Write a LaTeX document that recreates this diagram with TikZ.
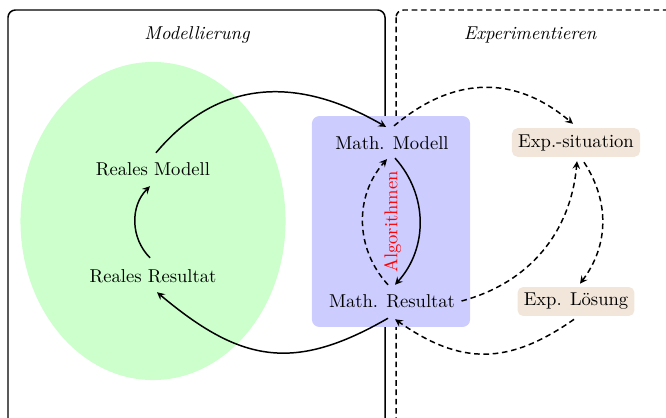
\documentclass[tikz,border=0pt]{standalone}
\usetikzlibrary{shapes.geometric,calc}
\begin{document}
\begin{tikzpicture}[x=0.5376pt,y=0.5376pt,
  frame/.style={thick,rounded corners=4pt},
  dsh/.style={dash pattern=on 3pt off 2pt},
  expbox/.style={fill=brown!20,rounded corners=3pt},
  arr/.style={thick,-stealth},
  darr/.style={thick,dsh,-stealth}]
\useasboundingbox (0,0) rectangle (666,-417);
\clip (0,0) rectangle (666,-417);
% frames
\draw[frame] (8,-10) rectangle (385,-460);
\draw[frame,dsh] (396,-10) rectangle (700,-460);
\node[font=\itshape] (t1) at (197,-35) {Modellierung};
\node[font=\itshape] (t2) at (530,-35) {Experimentieren};
% backgrounds
\node[ellipse, fill=green!20, minimum width=142.5pt, minimum height=171pt, inner sep=0pt] (realbg) at (153,-221) {};
\node[fill=blue!20, rounded corners=4pt, minimum width=85pt, minimum height=113.4pt, inner sep=0pt] (mathbg) at (391,-221.5) {};
% nodes
\node (rm) at (153,-169) {Reales Modell};
\node (rr) at (153,-276) {Reales Resultat};
\node (mm) at (392,-143) {Math. Modell};
\node (mr) at (392,-301) {Math. Resultat};
\node[expbox] (es) at (576,-142.5) {Exp.-situation};
\node[expbox] (el) at (576,-301.5) {Exp. Lösung};
\node[red, rotate=90] (alg) at (392.5,-222) {Algorithmen};
% solid arrows
\draw[arr] ($(rm.north)+(3,3)$) to[out=50,in=150,looseness=1.1] ($(mm.north)+(-6,3)$);
\draw[arr] ($(rr.north)+(-3,5)$) to[bend left=45] ($(rm.south)+(-3,-4)$);
\draw[arr] ($(mm.south)+(3,-2)$) to[bend left=42] ($(mr.north)+(3,3)$);
\draw[arr] ($(mr.south)+(-4,-4)$) to[out=210,in=-40,looseness=1.2] ($(rr.south)+(4,-3)$);
% dashed arrows
\draw[darr] ($(mr.north)+(-4,3)$) to[bend left=42] ($(mm.south)+(-5,-3)$);
\draw[darr] ($(mm.north)+(2,4)$) to[out=40,in=140,looseness=1.1] ($(es.north)+(-3,4)$);
\draw[darr] (mr.east) to[out=15,in=-95] ($(es.south)+(1,-4)$);
\draw[darr] ($(es.south)+(8,-5)$) to[bend left=35] ($(el.north)+(4,3)$);
\draw[darr] ($(el.south)+(-2,-3)$) to[out=-145,in=-35,looseness=1.15] ($(mr.south)+(3,-5)$);
\end{tikzpicture}
\end{document}
